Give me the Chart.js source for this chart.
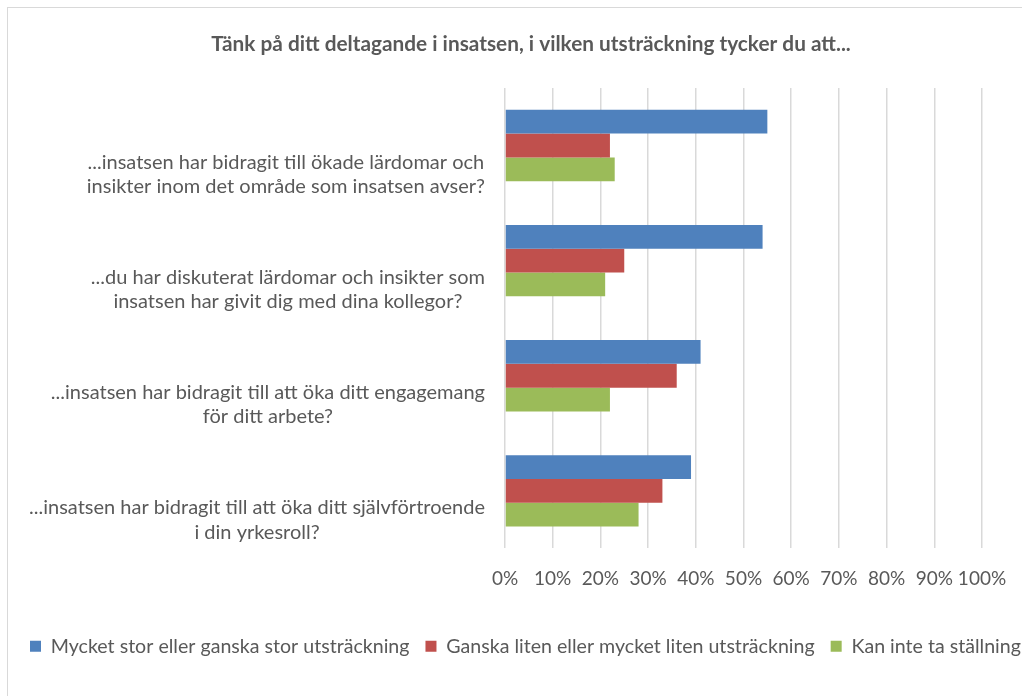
<!DOCTYPE html>
<html>
<head>
<meta charset="utf-8">
<script src="https://cdn.jsdelivr.net/npm/chart.js@4.4.1/dist/chart.umd.min.js"></script>
<style>
  html, body { margin: 0; padding: 0; background: #fff; overflow: hidden; }
  #frame {
    position: absolute; left: 7px; top: 7px;
    width: 1046px; height: 700px;
    border: 1px solid #d9d9d9;
  }
</style>
</head>
<body>
<div id="frame"><canvas id="chart" width="1046" height="700"></canvas></div>
<script>
document.addEventListener('DOMContentLoaded', () => {
    // Survey data
    const questions = [
        ['...insatsen har bidragit till ökade lärdomar och', 'insikter inom det område som insatsen avser?'],
        ['...du har diskuterat lärdomar och insikter som', 'insatsen har givit dig med dina kollegor?'],
        ['...insatsen har bidragit till att öka ditt engagemang', 'för ditt arbete?'],
        ['...insatsen har bidragit till att öka ditt självförtroende', 'i din yrkesroll?']
    ];
    const seriesNames = [
        'Mycket stor eller ganska stor utsträckning',
        'Ganska liten eller mycket liten utsträckning',
        'Kan inte ta ställning'
    ];
    const largeExtent = [55, 54, 41, 39];
    const smallExtent = [22, 25, 36, 33];
    const noOpinion = [23, 21, 22, 28];
    const xTicks = [0, 10, 20, 30, 40, 50, 60, 70, 80, 90, 100];

    const textColor = '#595959';
    const fontFamily = 'Lato, "Liberation Sans", sans-serif';

    // draws the category labels, each line centered, block right-aligned
    const categoryLabels = {
        id: 'categoryLabels',
        afterDraw(chart) {
            const ctx = chart.ctx;
            const yScale = chart.scales.y;
            const rightEdge = chart.chartArea.left - 20;
            ctx.save();
            ctx.font = '20px ' + fontFamily;
            ctx.fillStyle = textColor;
            ctx.textAlign = 'center';
            ctx.textBaseline = 'middle';
            questions.forEach((lines, i) => {
                const maxW = Math.max(...lines.map(l => ctx.measureText(l).width));
                const cx = rightEdge - maxW / 2;
                const cy = yScale.getPixelForValue(i) + 29;
                lines.forEach((line, j) => {
                    ctx.fillText(line, cx, cy + (j - (lines.length - 1) / 2) * 24.5);
                });
            });
            ctx.restore();
        }
    };

    const ctx = document.getElementById('chart').getContext('2d');
    new Chart(ctx, {
        type: 'bar',
        data: {
            labels: questions,
            datasets: [
                { label: seriesNames[0], data: largeExtent, backgroundColor: '#4F81BD' },
                { label: seriesNames[1], data: smallExtent, backgroundColor: '#C0504D' },
                { label: seriesNames[2], data: noOpinion, backgroundColor: '#9BBB59' }
            ]
        },
        options: {
            indexAxis: 'y',
            responsive: false,
            animation: false,
            categoryPercentage: 0.62,
            barPercentage: 1,
            layout: {
                padding: { left: 6, right: 6, top: 0, bottom: 42 }
            },
            scales: {
                x: {
                    min: 0,
                    max: 100,
                    afterBuildTicks: (axis) => {
                        axis.ticks = xTicks.map(v => ({ value: v }));
                    },
                    afterFit: (axis) => { axis.height = 72; },
                    grid: { color: '#d9d9d9', lineWidth: 1.5, drawTicks: false },
                    border: { display: false },
                    ticks: {
                        padding: 19,
                        color: textColor,
                        font: { family: fontFamily, size: 19 },
                        maxRotation: 0,
                        autoSkip: false,
                        callback: v => v + '%'
                    }
                },
                y: {
                    afterFit: (axis) => { axis.width = 491; },
                    grid: { display: false },
                    border: { display: false },
                    ticks: { display: false }
                },
                yRight: {
                    type: 'linear',
                    position: 'right',
                    afterFit: (axis) => { axis.width = 66; },
                    grid: { display: false },
                    border: { display: false },
                    ticks: { display: false }
                }
            },
            plugins: {
                title: {
                    display: true,
                    text: 'Tänk på ditt deltagande i insatsen, i vilken utsträckning tycker du att...',
                    color: textColor,
                    font: { family: fontFamily, size: 20.8, weight: 'bold' },
                    padding: { top: 24, bottom: 31 }
                },
                legend: {
                    position: 'bottom',
                    align: 'start',
                    labels: {
                        color: textColor,
                        font: { family: fontFamily, size: 19.6 },
                        boxWidth: 11,
                        boxHeight: 11,
                        padding: 16
                    }
                },
                tooltip: { enabled: false }
            }
        },
        plugins: [categoryLabels]
    });
});
</script>
</body>
</html>
